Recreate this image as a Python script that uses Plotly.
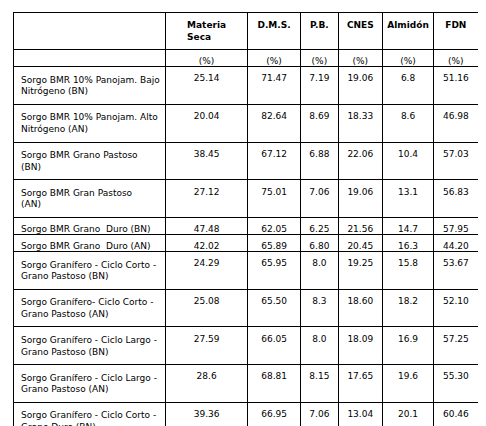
import plotly.graph_objects as go

header = [["", ""], ["<b>Materia Seca</b>", "(%)"], ["<b>D.M.S.</b>", "(%)"],
          ["<b>P.B.</b>", "(%)"], ["<b>CNES</b>", "(%)"], ["<b>Almidón</b>", "(%)"],
          ["<b>FDN</b>", "(%)"]]

tratamientos = [
    "Sorgo BMR 10% Panojam. Bajo<br>Nitrógeno (BN)",
    "Sorgo BMR 10% Panojam. Alto<br>Nitrógeno (AN)",
    "Sorgo BMR Grano Pastoso (BN)",
    "Sorgo BMR Gran Pastoso (AN)",
    "Sorgo BMR Grano  Duro (BN)",
    "Sorgo BMR Grano  Duro (AN)",
    "Sorgo Granífero - Ciclo Corto -<br>Grano Pastoso (BN)",
    "Sorgo Granífero- Ciclo Corto -<br>Grano Pastoso (AN)",
    "Sorgo Granífero - Ciclo Largo -<br>Grano Pastoso (BN)",
    "Sorgo Granífero - Ciclo Largo -<br>Grano Pastoso (AN)",
    "Sorgo Granífero - Ciclo Corto -<br>Grano Duro (BN)",
    "Sorgo Granífero - Ciclo Corto -<br>Grano Duro (AN)",
    "Sorgo Granífero - Ciclo Largo -<br>Grano Duro (BN)",
    "Sorgo Granífero - Ciclo Largo -<br>Grano Duro (AN)",
]
materia_seca = ["25.14", "20.04", "38.45", "27.12", "47.48", "42.02", "24.29",
                "25.08", "27.59", "28.6", "39.36", "35.66", "52.87", "45.5"]
dms = ["71.47", "82.64", "67.12", "75.01", "62.05", "65.89", "65.95",
       "65.50", "66.05", "68.81", "66.95", "65.63", "66.97", "70.78"]
pb = ["7.19", "8.69", "6.88", "7.06", "6.25", "6.80", "8.0",
      "8.3", "8.0", "8.15", "7.06", "7.25", "6.75", "6.88"]
cnes = ["19.06", "18.33", "22.06", "19.06", "21.56", "20.45", "19.25",
        "18.60", "18.09", "17.65", "13.04", "12.66", "20.88", "17.45"]
almidon = ["6.8", "8.6", "10.4", "13.1", "14.7", "16.3", "15.8",
           "18.2", "16.9", "19.6", "20.1", "23.1", "22.5", "24.9"]
fdn = ["51.16", "46.98", "57.03", "56.83", "57.95", "44.20", "53.67",
       "52.10", "57.25", "55.30", "60.46", "58.42", "58.03", "56.5"]

font = dict(family="DejaVu Sans", size=9, color="black")

fig = go.Figure(go.Table(
    domain=dict(x=[5 / 486, 470 / 486], y=[0, 1 - 4 / 426]),
    columnwidth=[155, 83, 54, 38, 45, 52, 45],
    header=dict(values=header, align="center", font=font, height=17,
                fill_color="white", line=dict(color="black", width=1)),
    cells=dict(values=[tratamientos, materia_seca, dms, pb, cnes, almidon, fdn],
               align=["left"] + ["center"] * 6, font=font, height=17,
               fill_color="white", line=dict(color="black", width=1)),
))
fig.update_layout(width=486, height=426, margin=dict(l=0, r=0, t=0, b=0),
                  paper_bgcolor="white")
fig.write_html("out.html")
